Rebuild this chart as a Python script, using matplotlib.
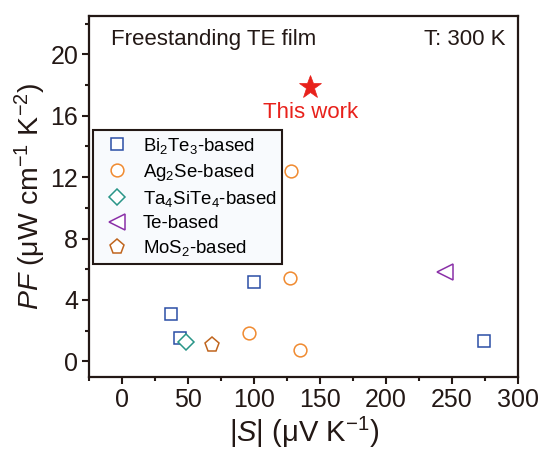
import matplotlib
matplotlib.use("Agg")
import matplotlib.pyplot as plt
from matplotlib.ticker import MultipleLocator

plt.rcParams['font.family'] = ['Liberation Sans', 'DejaVu Sans']
plt.rcParams['mathtext.fontset'] = 'custom'
plt.rcParams['mathtext.rm'] = 'Liberation Sans'
plt.rcParams['mathtext.it'] = 'Liberation Sans:italic'
plt.rcParams['mathtext.bf'] = 'Liberation Sans:bold'

# Data (|S| in uV/K, PF in uW cm-1 K-2)
bi2te3_S = [37, 44, 100, 274]
bi2te3_PF = [3.1, 1.5, 5.15, 1.3]
ag2se_S = [128, 127, 96, 135]
ag2se_PF = [12.4, 5.45, 1.87, 0.72]
ta4site4_S = [48]
ta4site4_PF = [1.26]
te_S = [245]
te_PF = [5.8]
mos2_S = [68]
mos2_PF = [1.09]
this_S = [142.5]
this_PF = [17.85]

labels = [r'Bi$_2$Te$_3$-based', r'Ag$_2$Se-based', r'Ta$_4$SiTe$_4$-based',
          'Te-based', r'MoS$_2$-based']

fig = plt.figure(figsize=(5.39, 4.53), dpi=100)
ax = fig.add_axes([0.166, 0.1684, 0.795, 0.7962])

dark = '#231815'
mew = 1.1
ax.plot(bi2te3_S, bi2te3_PF, 's', ms=8, mfc='white', mec='#2b4ea6', mew=mew,
        ls='none', label=labels[0], zorder=3)
ax.plot(ag2se_S, ag2se_PF, 'o', ms=9.2, mfc='white', mec='#f08a30', mew=mew,
        ls='none', label=labels[1], zorder=3)
ax.plot(ta4site4_S, ta4site4_PF, 'D', ms=8.5, mfc='white', mec='#2a9588', mew=mew,
        ls='none', label=labels[2], zorder=4)
ax.plot(te_S, te_PF, '<', ms=11, mfc='white', mec='#8a30a8', mew=mew,
        ls='none', label=labels[3], zorder=3)
ax.plot(mos2_S, mos2_PF, 'p', ms=11, mfc='white', mec='#c0651e', mew=mew,
        ls='none', label=labels[4], zorder=3)
ax.plot(this_S, this_PF, '*', ms=17, color='#e8211b', mec='#e8211b', mew=0.5,
        ls='none', zorder=5)

ax.text(this_S[0], 16.2, 'This work', color='#e8211b', fontsize=16,
        ha='center', va='center')
ax.text(-8.5, 21.0, 'Freestanding TE film', fontsize=16, ha='left', va='center',
        color=dark)
ax.text(290.5, 21.0, 'T: 300 K', fontsize=16, ha='right', va='center', color=dark)

ax.set_xlim(-25, 300)
ax.set_ylim(-1, 22.5)
ax.xaxis.set_major_locator(MultipleLocator(50))
ax.xaxis.set_minor_locator(MultipleLocator(25))
ax.yaxis.set_major_locator(MultipleLocator(4))
ax.yaxis.set_minor_locator(MultipleLocator(2))
ax.tick_params(which='both', direction='out', color=dark, width=1.5,
               top=False, right=False)
ax.tick_params(which='major', length=5, labelsize=18, labelcolor=dark, pad=3)
ax.tick_params(which='minor', length=3)
for sp in ax.spines.values():
    sp.set_color(dark)
    sp.set_linewidth(1.6)

ax.set_xlabel(r'|$\mathit{S}$| (μV K$^{-1}$)', fontsize=21, color=dark, labelpad=2)
ax.set_ylabel(r'$\mathit{PF}$ (μW cm$^{-1}$ K$^{-2}$)', fontsize=20.5, color=dark, labelpad=2)

leg = ax.legend(loc='upper left', bbox_to_anchor=(0.009, 0.684), fontsize=13.4,
                frameon=True, fancybox=False, edgecolor=dark, facecolor='#f8fafd',
                framealpha=1, borderpad=0.3, labelspacing=0.33, handletextpad=0.47,
                handlelength=1.9, borderaxespad=0)
leg.get_frame().set_linewidth(1.5)

fig.savefig('out.png', dpi=100)
